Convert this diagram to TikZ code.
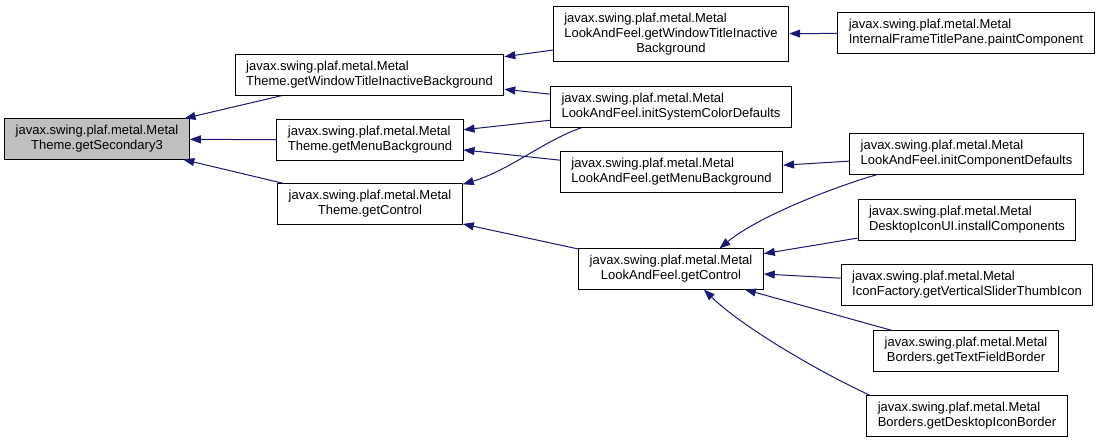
\documentclass[tikz,border=0pt]{standalone}
\usepackage{fontspec}
\setmainfont{Liberation Sans}
\usetikzlibrary{arrows.meta}
\definecolor{dxblue}{RGB}{25,25,112}
\definecolor{dxgray}{RGB}{191,191,191}

\begin{document}
\begin{tikzpicture}[x=1pt,y=-1pt,>={Triangle[length=11pt,width=8pt]},font=\fontsize{13}{15}\selectfont,
    fn/.style={draw=black,line width=1pt,fill=white,inner xsep=11pt,inner ysep=6.5pt,align=left},
    fnc/.style={fn,align=center},
    call/.style={->,draw=dxblue,line width=1pt}]
    \useasboundingbox (0,0) rectangle (1099,442);
    \node[fnc,fill=dxgray] (sec3) at (97,139) {javax.swing.plaf.metal.Metal\\Theme.getSecondary3};
    \node[fn] (wtib) at (369.5,75) {javax.swing.plaf.metal.Metal\\Theme.getWindowTitleInactiveBackground};
    \node[fn] (menubg) at (370,140) {javax.swing.plaf.metal.Metal\\Theme.getMenuBackground};
    \node[fnc] (ctrl) at (370,204) {javax.swing.plaf.metal.Metal\\Theme.getControl};
    \node[fnc] (lafwtib) at (671,34) {\rlap{javax.swing.plaf.metal.Metal}\phantom{LookAndFeel.getWindowTitleInactive}\\LookAndFeel.getWindowTitleInactive\\Background};
    \node[fn] (initsys) at (671,107) {javax.swing.plaf.metal.Metal\\LookAndFeel.initSystemColorDefaults};
    \node[fn] (lafmenu) at (671.5,172) {javax.swing.plaf.metal.Metal\\LookAndFeel.getMenuBackground};
    \node[fnc] (lafctrl) at (671,269) {javax.swing.plaf.metal.Metal\\LookAndFeel.getControl};
    \node[fn] (paint) at (966,33) {javax.swing.plaf.metal.Metal\\InternalFrameTitlePane.paintComponent};
    \node[fn] (initcomp) at (966.5,154) {javax.swing.plaf.metal.Metal\\LookAndFeel.initComponentDefaults};
    \node[fn] (install) at (967,220) {javax.swing.plaf.metal.Metal\\DesktopIconUI.installComponents};
    \node[fn] (slider) at (967,285) {javax.swing.plaf.metal.Metal\\IconFactory.getVerticalSliderThumbIcon};
    \node[fnc] (textfield) at (966,351) {javax.swing.plaf.metal.Metal\\Borders.getTextFieldBorder};
    \node[fn] (deskborder) at (967,416) {javax.swing.plaf.metal.Metal\\Borders.getDesktopIconBorder};
    \draw[call] (wtib) -- (sec3);
    \draw[call] (menubg) -- (sec3);
    \draw[call] (ctrl) -- (sec3);
    \draw[call] (lafwtib) -- (wtib);
    \draw[call] (initsys) -- (wtib);
    \draw[call] (initsys) -- (menubg);
    \draw[call] (initsys.193) .. controls (545,140) and (510,170) .. (ctrl.12);
    \draw[call] (lafmenu) -- (menubg);
    \draw[call] (lafctrl) -- (ctrl);
    \draw[call] (paint) -- (lafwtib);
    \draw[call] (initcomp) -- (lafmenu);
    \draw[call] (initcomp.193) .. controls (840,185) and (760,215) .. (lafctrl.23);
    \draw[call] (install) -- (lafctrl);
    \draw[call] (slider) -- (lafctrl);
    \draw[call] (textfield) -- (lafctrl);
    \draw[call] (deskborder.168) .. controls (815,370) and (740,325) .. (lafctrl.328);
\end{tikzpicture}
\end{document}
